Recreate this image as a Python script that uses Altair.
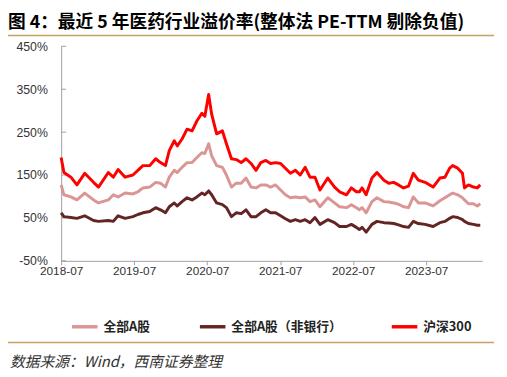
import altair as alt
import pandas as pd

# ---- data ----
dates = [
    "2018-07-01", "2018-07-15", "2018-08-19", "2018-09-18", "2018-10-27", "2018-12-10",
    "2019-01-04", "2019-02-22", "2019-03-19", "2019-04-12", "2019-05-17", "2019-06-25",
    "2019-07-20", "2019-08-14", "2019-09-17", "2019-10-17", "2019-11-10", "2019-12-05",
    "2019-12-24", "2020-01-18", "2020-02-02", "2020-02-26", "2020-03-22", "2020-04-16",
    "2020-05-10", "2020-06-04", "2020-06-19", "2020-07-08", "2020-07-23", "2020-08-17",
    "2020-09-15", "2020-10-05", "2020-10-30", "2020-11-23", "2020-12-18", "2021-01-11",
    "2021-02-05", "2021-03-02", "2021-03-26", "2021-04-20", "2021-05-14", "2021-06-08",
    "2021-07-03", "2021-07-27", "2021-08-21", "2021-09-15", "2021-10-09", "2021-11-03",
    "2021-11-27", "2021-12-22", "2022-01-16", "2022-02-24", "2022-03-30", "2022-04-24",
    "2022-05-29", "2022-06-22", "2022-07-17", "2022-08-01", "2022-08-15", "2022-09-04",
    "2022-10-03", "2022-10-28", "2022-12-02", "2022-12-26", "2023-01-20", "2023-02-13",
    "2023-03-10", "2023-04-04", "2023-04-28", "2023-05-23", "2023-06-26", "2023-08-05",
    "2023-09-08", "2023-10-03", "2023-10-27", "2023-11-11", "2023-12-06", "2023-12-30",
    "2024-01-09", "2024-01-29", "2024-02-23", "2024-03-13", "2024-03-28",
]

hs300 = [
    191, 156, 145, 127, 154, 133, 122, 156, 145, 163, 145, 150,
    161, 172, 172, 188, 179, 172, 207, 230, 218, 234, 257, 253,
    276, 294, 287, 338, 292, 246, 253, 223, 188, 186, 179, 188,
    177, 161, 179, 184, 177, 179, 177, 166, 154, 161, 150, 168,
    145, 145, 115, 143, 122, 111, 104, 120, 111, 111, 120, 104,
    143, 156, 138, 131, 133, 127, 120, 124, 154, 138, 133, 122,
    143, 145, 166, 172, 166, 154, 120, 127, 122, 120, 127,
]

all_a = [
    127, 104, 99, 92, 108, 92, 85, 92, 104, 99, 108, 106,
    111, 120, 122, 133, 131, 122, 145, 161, 156, 168, 179, 179,
    191, 202, 200, 223, 195, 172, 168, 150, 122, 131, 131, 143,
    122, 120, 127, 127, 122, 127, 115, 104, 97, 99, 97, 99,
    88, 92, 76, 97, 85, 76, 74, 81, 74, 69, 74, 62,
    88, 97, 88, 87, 85, 82, 76, 74, 99, 85, 85, 78,
    90, 97, 104, 108, 104, 97, 92, 83, 83, 78, 83,
]

all_a_ex_bank = [
    62, 53, 51, 49, 55, 44, 42, 44, 42, 55, 49, 53,
    58, 62, 65, 74, 69, 62, 76, 85, 78, 88, 97, 92,
    99, 108, 104, 113, 104, 85, 81, 74, 53, 62, 60, 69,
    53, 53, 62, 69, 62, 62, 55, 48, 42, 46, 42, 46,
    39, 51, 35, 46, 39, 30, 30, 35, 28, 23, 28, 17,
    35, 42, 39, 38, 37, 34, 30, 28, 42, 37, 35, 30,
    39, 42, 49, 53, 51, 46, 42, 37, 35, 33, 33,
]

series_names = ["全部A股", "全部A股（非银行）", "沪深300"]
series_colors = ["#DA9694", "#632523", "#FF0000"]
y_ticks = [-50, 50, 150, 250, 350, 450]
x_tick_years = [2018, 2019, 2020, 2021, 2022, 2023]

title_text = "图 4：最近 5 年医药行业溢价率(整体法 PE-TTM 剔除负值)"
source_text = "数据来源：Wind，西南证券整理"

# ---- build long table ----
rows = []
for name, vals in zip(series_names, [all_a, all_a_ex_bank, hs300]):
    for d, v in zip(dates, vals):
        rows.append({"date": d, "series": name, "value": v})
df = pd.DataFrame(rows)

TAN = "#C9A063"
AXIS_GRAY = "#A0A0A0"
LABEL_FONT = "Liberation Sans"
CJK = "Noto Sans CJK SC"

y_scale = alt.Scale(domain=[-50, 450], nice=False, zero=False)
x_scale = alt.Scale(domain=["2018-07-01", "2024-04-07"], nice=False)

lines = alt.Chart(df).mark_line(strokeWidth=3, strokeJoin="round").encode(
    x=alt.X(
        "date:T",
        scale=x_scale,
        axis=alt.Axis(
            values=[alt.DateTime(year=y, month=7, date=1) for y in x_tick_years],
            format="%Y-%m",
            title=None,
            grid=False,
            domainColor=AXIS_GRAY,
            tickColor=AXIS_GRAY,
            tickSize=4,
            labelPadding=1,
            labelFlush=False,
            labelFont=LABEL_FONT,
            labelFontSize=12,
            labelColor="#333333",
            labelOverlap=False,
        ),
    ),
    y=alt.Y(
        "value:Q",
        scale=y_scale,
        axis=alt.Axis(
            values=y_ticks,
            labelExpr="datum.value + '%'",
            title=None,
            grid=False,
            ticks=False,
            domainColor=AXIS_GRAY,
            labelPadding=14,
            labelFlush=False,
            labelFont=LABEL_FONT,
            labelFontSize=12.5,
            labelColor="#333333",
        ),
    ),
    color=alt.Color(
        "series:N",
        scale=alt.Scale(domain=series_names, range=series_colors),
        legend=alt.Legend(
            title=None,
            orient="none",
            direction="horizontal",
            legendX=9,
            legendY=270,
            symbolType="stroke",
            symbolSize=676,
            symbolStrokeWidth=3.5,
            labelFont=CJK,
            labelFontSize=13,
            labelFontWeight="bold",
            labelColor="#222222",
            labelOffset=4,
            columnPadding=43,
            labelLimit=300,
        ),
    ),
    order=alt.Order("date:T"),
)

tick_df = pd.DataFrame({"tick": y_ticks})
yticks = alt.Chart(tick_df).mark_rule(color=AXIS_GRAY, strokeWidth=1).encode(
    y=alt.Y("tick:Q", scale=y_scale),
    x=alt.value(0),
    x2=alt.value(5),
)

one = pd.DataFrame({"t": [title_text], "s": [source_text]})

title = alt.Chart(one).mark_text(
    align="left", baseline="middle", font=CJK, fontSize=18, fontWeight="bold", color="#000000"
).encode(text="t:N", x=alt.value(-54), y=alt.value(-24))

top_line = alt.Chart(one).mark_rule(color=TAN, strokeWidth=1.5).encode(
    x=alt.value(-54), x2=alt.value(440), y=alt.value(-11)
)

bottom_line = alt.Chart(one).mark_rule(color=TAN, strokeWidth=1.5).encode(
    x=alt.value(-54), x2=alt.value(440), y=alt.value(301)
)

source = alt.Chart(one).mark_text(
    align="left", baseline="middle", font=CJK, fontSize=15, fontStyle="italic", color="#333333"
).encode(text="s:N", x=alt.value(-52), y=alt.value(321))

chart = alt.layer(yticks, lines, title, top_line, bottom_line, source).properties(
    width=428,
    height=218,
    padding={"left": 54, "top": 36, "right": 17, "bottom": 110},
    autosize="none",
).configure_view(stroke=None)

chart.save("out.html", embed_options={"renderer": "svg", "actions": False})
